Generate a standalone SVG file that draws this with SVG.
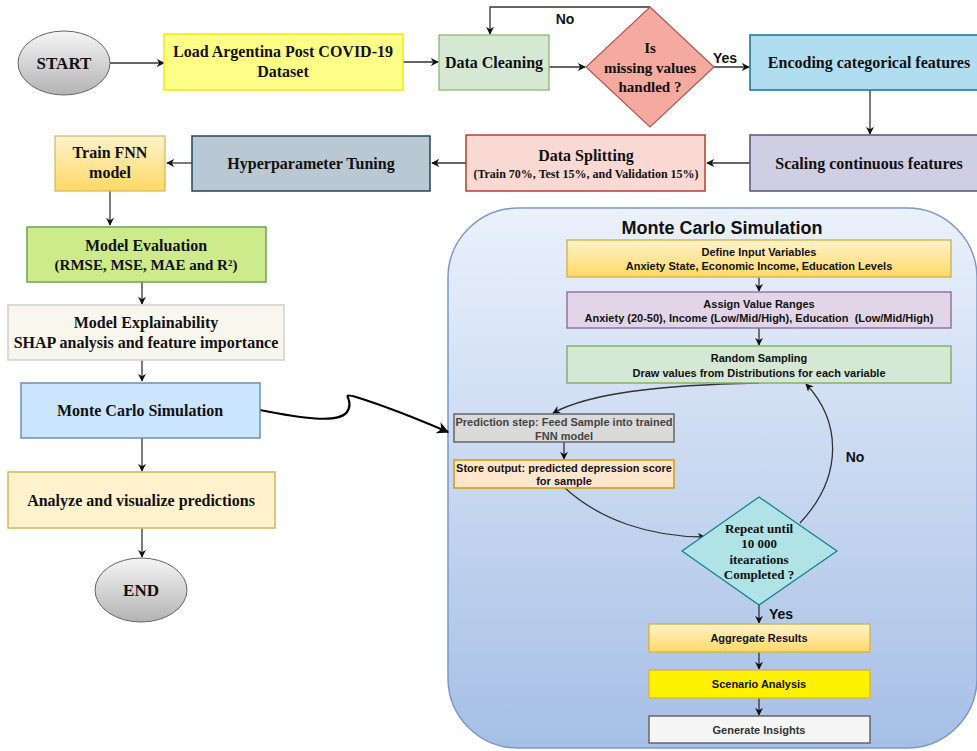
<svg xmlns="http://www.w3.org/2000/svg" width="977" height="751" viewBox="0 0 977 751">
<defs>
<linearGradient id="gGray" x1="0" y1="0" x2="0" y2="1"><stop offset="0" stop-color="#f5f5f5"/><stop offset="1" stop-color="#b3b3b3"/></linearGradient>
<linearGradient id="gYel" x1="0" y1="0" x2="0" y2="1"><stop offset="0" stop-color="#fff2cc"/><stop offset="1" stop-color="#ffd966"/></linearGradient>
<linearGradient id="gCont" x1="0" y1="0" x2="0" y2="1"><stop offset="0" stop-color="#eaf1fb"/><stop offset="1" stop-color="#a6bfe6"/></linearGradient>
<marker id="arr" viewBox="0 0 10 10" refX="9" refY="5" markerWidth="8" markerHeight="8" markerUnits="userSpaceOnUse" orient="auto"><path d="M0,0 L10,5 L0,10 L3,5 Z" fill="#111"/></marker>
<marker id="arrB" viewBox="0 0 10 10" refX="9" refY="5" markerWidth="12" markerHeight="12" markerUnits="userSpaceOnUse" orient="auto"><path d="M0,0 L10,5 L0,10 L3,5 Z" fill="#000"/></marker>
</defs>
<style>
.s{font-family:"Liberation Serif","Times New Roman",serif;font-weight:bold;fill:#111;text-anchor:middle}
.a{font-family:"Liberation Sans",Arial,sans-serif;font-weight:bold;fill:#111;text-anchor:middle}
.c{fill:none;stroke:#333;stroke-width:1.3;marker-end:url(#arr)}
.t16{font-size:16px}
.t11{font-size:11px}
</style>
<rect width="977" height="751" fill="#fff"/>

<g id="connectors">
<path class="c" d="M110,63 L164,63"/>
<path class="c" d="M403,62 L438,62"/>
<path class="c" d="M549,67 L585,67"/>
<path class="c" d="M650,7 L490,7 L490,34"/>
<path class="c" d="M714,67 L749,67"/>
<path class="c" d="M870,90 L870,134"/>
<path class="c" d="M750,163 L707,163"/>
<path class="c" d="M466,163 L432,163"/>
<path class="c" d="M192,163 L167,163"/>
<path class="c" d="M110,191 L110,225"/>
<path class="c" d="M142,282 L142,304"/>
<path class="c" d="M142,360 L142,381"/>
<path class="c" d="M142,438 L142,471"/>
<path class="c" d="M142,528 L142,557"/>
</g>

<g id="mc-container">
<rect x="448" y="208" width="529" height="540" rx="70" ry="70" fill="url(#gCont)" stroke="#7b98c6" stroke-width="1.5"/>
<text class="a" x="722" y="234" style="font-size:18px">Monte Carlo Simulation</text>
</g>

<g id="mc-connectors">
<path class="c" d="M759,277 L759,291"/>
<path class="c" d="M759,328 L759,345"/>
<path class="c" d="M759,383 C660,385 590,393 553,413"/>
<path class="c" d="M564,442 L564,459"/>
<path class="c" d="M565,488 C600,520 650,537 705,537"/>
<path class="c" d="M800,523 C845,475 840,420 806,384"/>
<path class="c" d="M759,605 L759,623"/>
<path class="c" d="M759,652 L759,669"/>
<path class="c" d="M759,698 L759,715"/>
<text class="a" x="855" y="462" style="font-size:14px">No</text>
<text class="a" x="781" y="619" style="font-size:14px">Yes</text>
</g>

<g id="wavy">
<path d="M260,410 C300,418 338,424 347,412 C356,400 338,392 356,397 C385,406 420,420 448,432" fill="none" stroke="#000" stroke-width="2.2" marker-end="url(#arrB)"/>
</g>

<g id="labels">
<text class="a" x="565" y="24" style="font-size:14px">No</text>
<text class="a" x="725" y="63" style="font-size:14px">Yes</text>
</g>

<g id="start">
<ellipse cx="64" cy="63" rx="46" ry="32" fill="url(#gGray)" stroke="#666"/>
<text class="s" x="64" y="69" style="font-size:17px">START</text>
</g>
<g id="load">
<rect x="164" y="34" width="239" height="56" fill="#ffff88" stroke="#eeee00" stroke-width="1.5"/>
<text class="s t16" x="283" y="57">Load Argentina Post COVID-19</text>
<text class="s t16" x="283" y="77">Dataset</text>
</g>
<g id="cleaning">
<rect x="439" y="35" width="110" height="55" fill="#d5e8d4" stroke="#82b366" stroke-width="1.2"/>
<text class="s t16" x="494" y="68">Data Cleaning</text>
</g>
<g id="missing">
<polygon points="650,7 714,67 650,127 586,67" fill="#f5aaa0" stroke="#b85450" stroke-width="1.2"/>
<text class="s" x="650" y="53" style="font-size:15px">Is</text>
<text class="s" x="650" y="73" style="font-size:15px">missing values</text>
<text class="s" x="650" y="92" style="font-size:15px">handled ?</text>
</g>
<g id="encoding">
<rect x="750" y="35" width="228" height="55" fill="#b1ddf0" stroke="#10739e" stroke-width="1.5"/>
<text class="s t16" x="869" y="68">Encoding categorical features</text>
</g>
<g id="scaling">
<rect x="750" y="135" width="228" height="56" fill="#d0cee2" stroke="#56517e" stroke-width="1.5"/>
<text class="s t16" x="869" y="169">Scaling continuous features</text>
</g>
<g id="splitting">
<rect x="466" y="135" width="239" height="56" fill="#fad9d5" stroke="#ae4132" stroke-width="1.5"/>
<text class="s t16" x="586" y="161">Data Splitting</text>
<text class="s" x="586" y="178" style="font-size:12px">(Train 70%, Test 15%, and Validation 15%)</text>
</g>
<g id="hyper">
<rect x="192" y="136" width="238" height="55" fill="#bac8d3" stroke="#23445d" stroke-width="1.5"/>
<text class="s t16" x="311" y="169">Hyperparameter Tuning</text>
</g>
<g id="train">
<rect x="55" y="136" width="110" height="55" fill="url(#gYel)" stroke="#d6b656" stroke-width="1.2"/>
<text class="s t16" x="110" y="158">Train FNN</text>
<text class="s t16" x="110" y="178">model</text>
</g>
<g id="evaluation">
<rect x="27" y="227" width="239" height="55" fill="#cdeb8b" stroke="#6aa84f" stroke-width="1.5"/>
<text class="s t16" x="146" y="251">Model Evaluation</text>
<text class="s" x="146" y="270" style="font-size:15px">(RMSE, MSE, MAE and R²)</text>
</g>
<g id="explain">
<rect x="8" y="305" width="276" height="55" fill="#f9f7ed" stroke="#d0d0d0" stroke-width="1.5"/>
<text class="s t16" x="146" y="328">Model Explainability</text>
<text class="s t16" x="146" y="348">SHAP analysis and feature importance</text>
</g>
<g id="mc-left">
<rect x="21" y="383" width="239" height="55" fill="#cce5ff" stroke="#6c8ebf" stroke-width="1.5"/>
<text class="s t16" x="140" y="416">Monte Carlo Simulation</text>
</g>
<g id="analyze">
<rect x="8" y="472" width="267" height="56" fill="#fff2cc" stroke="#d6b656" stroke-width="1.5"/>
<text class="s t16" x="141" y="506">Analyze and visualize predictions</text>
</g>
<g id="end">
<ellipse cx="141" cy="590" rx="46" ry="32" fill="url(#gGray)" stroke="#666"/>
<text class="s" x="141" y="596" style="font-size:17px">END</text>
</g>

<g id="define">
<rect x="567" y="240" width="384" height="37" fill="url(#gYel)" stroke="#d6b656" stroke-width="1.5"/>
<text class="a t11" x="759" y="256">Define Input Variables</text>
<text class="a t11" x="759" y="270">Anxiety State, Economic Income, Education Levels</text>
</g>
<g id="assign">
<rect x="567" y="292" width="384" height="36" fill="#e1d5e7" stroke="#9673a6" stroke-width="1.5"/>
<text class="a t11" x="759" y="308">Assign Value Ranges</text>
<text class="a t11" x="759" y="322" style="white-space:pre">Anxiety (20-50), Income (Low/Mid/High), Education  (Low/Mid/High)</text>
</g>
<g id="sampling">
<rect x="567" y="346" width="384" height="37" fill="#d5e8d4" stroke="#82b366" stroke-width="1.5"/>
<text class="a t11" x="759" y="362">Random Sampling</text>
<text class="a t11" x="759" y="377">Draw values from Distributions for each variable</text>
</g>
<g id="prediction">
<rect x="454" y="414" width="220" height="28" fill="#dadada" stroke="#666" stroke-width="1.5"/>
<text class="a t11" x="564" y="426" style="fill:#444">Prediction step: Feed Sample into trained</text>
<text class="a t11" x="564" y="440" style="fill:#444">FNN model</text>
</g>
<g id="store">
<rect x="454" y="460" width="220" height="28" fill="#ffe6cc" stroke="#d79b00" stroke-width="1.5"/>
<text class="a t11" x="564" y="472">Store output: predicted depression score</text>
<text class="a t11" x="564" y="485">for sample</text>
</g>
<g id="repeat">
<polygon points="759,497 837,551 759,605 682,551" fill="#b0e3e6" stroke="#0e8088" stroke-width="1.2"/>
<text class="s" x="759" y="533" style="font-size:13px">Repeat until</text>
<text class="s" x="759" y="548" style="font-size:13px">10 000</text>
<text class="s" x="759" y="564" style="font-size:13px">itearations</text>
<text class="s" x="759" y="579" style="font-size:13px">Completed ?</text>
</g>
<g id="aggregate">
<rect x="649" y="624" width="221" height="28" fill="url(#gYel)" stroke="#d6b656" stroke-width="1.5"/>
<text class="a t11" x="759" y="642">Aggregate Results</text>
</g>
<g id="scenario">
<rect x="649" y="670" width="221" height="28" fill="#fff200" stroke="#d6b656" stroke-width="1.5"/>
<text class="a t11" x="759" y="688">Scenario Analysis</text>
</g>
<g id="insights">
<rect x="649" y="716" width="221" height="27" fill="#f5f5f5" stroke="#666" stroke-width="1.5"/>
<text class="a t11" x="759" y="734" style="fill:#333">Generate Insights</text>
</g>
</svg>
